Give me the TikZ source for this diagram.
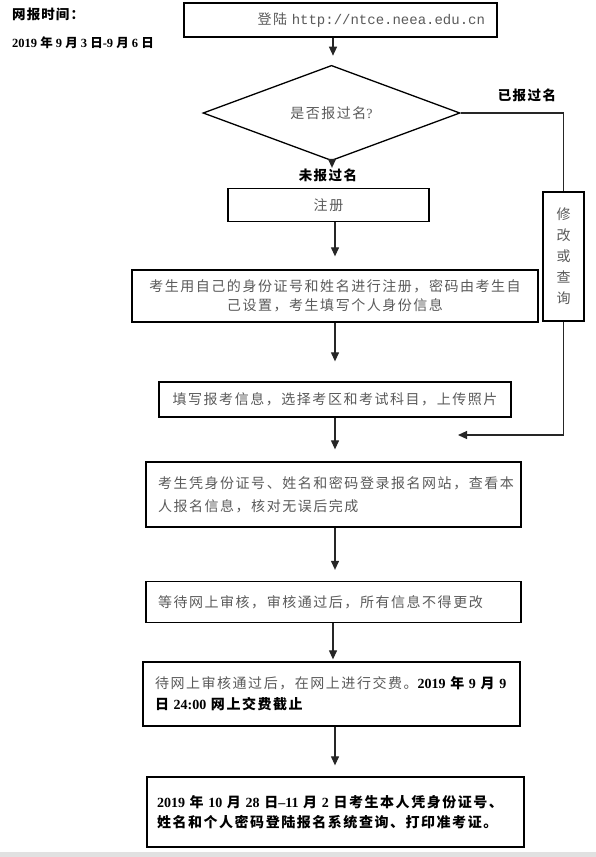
\documentclass[tikz,border=0pt]{standalone}
\usepackage{fontspec}
\setmainfont{Liberation Serif}
\newfontfamily\tms{Liberation Serif}
\newfontfamily\hz[LetterSpace=11]{Noto Sans CJK SC}
\newfontfamily\hzs[LetterSpace=8]{Noto Sans CJK SC}
\newfontfamily\mono{Liberation Mono}
\usetikzlibrary{shapes.geometric,arrows.meta}
\definecolor{txtgray}{RGB}{90,90,90}
\definecolor{stripgray}{RGB}{225,225,225}
\newcommand\numb[1]{{\tms\ #1\ }}
\begin{document}
\begin{tikzpicture}[x=1pt,y=-1pt,
  box/.style={draw, line width=1.3pt, rectangle, inner sep=0pt, text=txtgray,
    font=\hz\fontsize{14}{19}\selectfont},
  arr/.style={draw=black!85, line width=1.2pt, -{Triangle[length=9pt,width=8pt]}},
  ln/.style={draw=black!85, line width=1.2pt},
  lbl/.style={inner sep=0pt, font=\hz\bfseries\fontsize{13.5}{16}\selectfont},
  hdr/.style={inner sep=0pt, font=\hzs\bfseries\fontsize{12.5}{14}\selectfont}]
\useasboundingbox (0,0) rectangle (596,857);
\fill[white] (0,0) rectangle (596,857);
\fill[stripgray] (0,852) rectangle (596,857);
% header
\node[hdr, anchor=west, font=\hzs\bfseries\fontsize{13.5}{15}\selectfont] (hd) at (12,14) {网报时间：};
\node[hdr, anchor=west] (dt) at (12,43) {{\tms 2019\ }年\numb{9}月\numb{3}日{\tms -9\ }月\numb{6}日};
% boxes
\node[box, minimum width=313, minimum height=34, text width=289, align=right] (b1) at (340.5,20)
  {登陆 {\mono\fontsize{14}{16}\selectfont http://ntce.neea.edu.cn}};
\node[draw, diamond, line width=1.3pt, inner sep=0pt, minimum width=257, minimum height=58,
  text=txtgray, font=\hz\fontsize{14}{16}\selectfont] (d) at (331.5,113) {是否报过名{\tms ?}};
\node[box, minimum width=201, minimum height=33] (reg) at (328.5,205) {注册};
\node[box, minimum width=41, minimum height=129, align=center,
  font=\hz\fontsize{14}{21}\selectfont] (ed) at (563.5,256.5) {修\\改\\或\\查\\询};
\node[box, minimum width=406, minimum height=52, align=center] (b3) at (335,296)
  {考生用自己的身份证号和姓名进行注册，密码由考生自\\己设置，考生填写个人身份信息};
\node[box, minimum width=352, minimum height=35, align=center] (b4) at (335,399.5)
  {填写报考信息，选择考区和考试科目，上传照片};
\node[box, minimum width=375, minimum height=65, text width=351, align=left,
  font=\hz\fontsize{14}{23}\selectfont] (b5) at (333.5,494.5)
  {考生凭身份证号、姓名和密码登录报名网站，查看本\\人报名信息，核对无误后完成};
\node[box, minimum width=375, minimum height=41, text width=351, align=left] (b6) at (333.5,602)
  {等待网上审核，审核通过后，所有信息不得更改};
\node[box, minimum width=377, minimum height=64, text width=353, align=left,
  font=\hz\fontsize{14}{21}\selectfont] (b7) at (331.5,694)
  {\mbox{待网上审核通过后，在网上进行交费。\textcolor{black}{\bfseries{\tms 2019\ }年\numb{9}月{\tms\ 9}}}\\
   \mbox{\textcolor{black}{\bfseries 日{\tms\ 24:00\ }网上交费截止}}};
\node[box, minimum width=377, minimum height=70, text width=357, align=left, text=black,
  font=\hz\bfseries\fontsize{14}{20}\selectfont] (b8) at (335.5,812)
  {\mbox{{\tms 2019\ }年\numb{10}月\numb{28}日{\tms –11\ }月\numb{2}日考生本人凭身份证号、}\\
   \mbox{姓名和个人密码登陆报名系统查询、打印准考证。}};
% labels
\node[lbl] (yb) at (527,95) {已报过名};
\node[lbl] (wb) at (328,175) {未报过名};
% connectors
\coordinate (xa) at (333,0);
\coordinate (xb) at (332,0);
\coordinate (xc) at (335,0);
\draw[arr, shorten >=9pt] (b1.south -| xa) -- (d.north -| xa);
\draw[arr, shorten >=20pt] (d.south -| xb) -- (reg.north -| xb);
\draw[arr, shorten >=13pt] (reg.south -| xc) -- (b3.north -| xc);
\draw[arr, shorten >=20pt] (b3.south -| xc) -- (b4.north -| xc);
\draw[arr, shorten >=12pt] (b4.south -| xc) -- (b5.north -| xc);
\draw[arr, shorten >=11pt] (b5.south -| xc) -- (b6.north -| xc);
\draw[arr, shorten >=2pt] (b6.south -| xa) -- (b7.north -| xa);
\draw[arr, shorten >=11pt] (b7.south -| xc) -- (b8.north -| xc);
\draw[ln] (d.east) -| (ed.north);
\coordinate (m) at (458,435);
\draw[arr] (ed.south) |- (m);
\end{tikzpicture}
\end{document}
